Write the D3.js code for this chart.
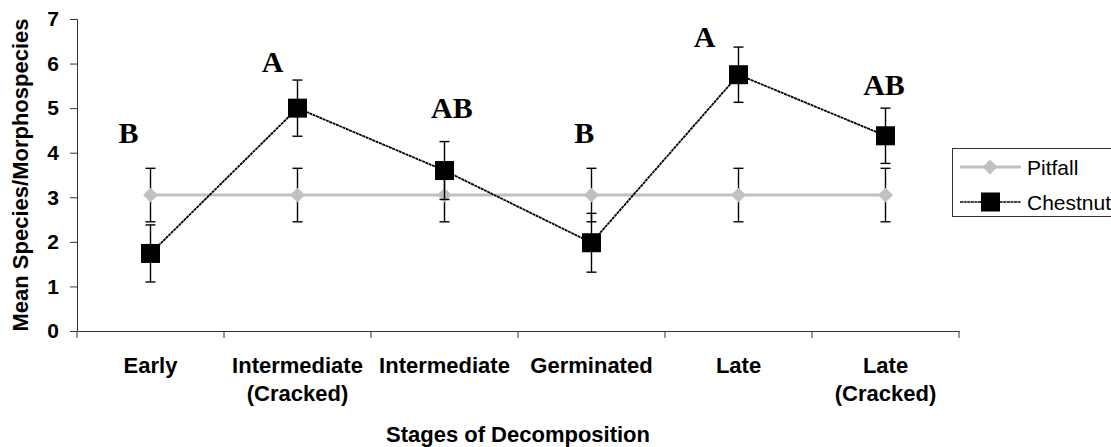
<!DOCTYPE html>
<html>
<head>
<meta charset="utf-8">
<script src="https://cdn.jsdelivr.net/npm/d3@7"></script>
<style>
  body { margin: 0; background: #fff; }
  svg { display: block; }
</style>
</head>
<body>
<svg id="chart" width="1111" height="447"></svg>
<script>
'use strict';

// stages of decomposition (each label line separated by "|")
const categories = ["Early", "Intermediate|(Cracked)", "Intermediate", "Germinated", "Late", "Late|(Cracked)"];

const pitfallMean = [3.05, 3.05, 3.05, 3.05, 3.05, 3.05];
const pitfallErr = [0.6, 0.6, 0.6, 0.6, 0.6, 0.6];

const chestnutMean = [1.74, 5.0, 3.6, 1.98, 5.75, 4.38];
const chestnutErr = [0.64, 0.63, 0.65, 0.66, 0.62, 0.62];

const yTicks = [0, 1, 2, 3, 4, 5, 6, 7];

// significance letters and where they sit (value units, fraction of band)
const letters = ["B", "A", "AB", "B", "A", "AB"];
const letterAt = [4.22, 5.81, 4.78, 4.22, 6.37, 5.30];
const letterShift = [-0.15, -0.17, 0.05, -0.05, -0.23, -0.01];


const svg = d3.select("#chart");
const plotL = 77, plotR = 959, plotT = 19, plotB = 331;

const x = d3.scaleBand()
  .domain(categories)
  .range([plotL, plotR])
  .padding(0);

const y = d3.scaleLinear()
  .domain([0, 7])
  .range([plotB, plotT]);

const cx = i => x(categories[i]) + x.bandwidth() / 2;

// y axis
const yAxis = svg.append("g")
  .attr("transform", `translate(${plotL},0)`)
  .call(d3.axisLeft(y).tickValues(yTicks).tickSize(7).tickPadding(11).tickFormat(d3.format("d")));
yAxis.selectAll("path, line").attr("stroke", "#333");
yAxis.selectAll("text")
  .attr("font-family", "Liberation Sans, Arial, sans-serif")
  .attr("font-weight", "bold")
  .attr("font-size", 21)
  .attr("fill", "#000");

// x axis, ticks between categories like excel
const xAxis = svg.append("g")
  .attr("transform", `translate(0,${plotB})`)
  .call(d3.axisBottom(x).tickSize(0).tickFormat(""));
xAxis.select("path").attr("stroke", "#333");
xAxis.selectAll(".tick").remove();

const bounds = categories.map(c => x(c)).concat([plotR]);
xAxis.selectAll("line.sep")
  .data(bounds)
  .enter()
  .append("line")
  .attr("class", "sep")
  .attr("x1", d => d).attr("x2", d => d)
  .attr("y1", 0).attr("y2", 7)
  .attr("stroke", "#333");

const lbl = svg.append("g")
  .attr("font-family", "Liberation Sans, Arial, sans-serif")
  .attr("font-weight", "bold")
  .attr("font-size", 22)
  .attr("text-anchor", "middle");

categories.forEach((c, i) => {
  c.split("|").forEach((line, j) => {
    lbl.append("text")
      .attr("x", cx(i))
      .attr("y", 373 + j * 28)
      .text(line);
  });
});

// axis titles
lbl.append("text")
  .attr("x", (plotL + plotR) / 2)
  .attr("y", 442)
  .text("Stages of Decomposition");

lbl.append("text")
  .attr("transform", `translate(28,${(plotT + plotB) / 2}) rotate(-90)`)
  .text("Mean Species/Morphospecies");

const idx = d3.range(categories.length);

function errorBars(mean, err) {
  const g = svg.append("g")
    .attr("stroke", "#000")
    .attr("stroke-width", 1.4);
  g.selectAll("line.v")
    .data(idx)
    .enter()
    .append("line")
    .attr("x1", cx).attr("x2", cx)
    .attr("y1", i => y(mean[i] - err[i]))
    .attr("y2", i => y(mean[i] + err[i]));
  [1, -1].forEach(s => {
    g.selectAll(null)
      .data(idx)
      .enter()
      .append("line")
      .attr("x1", i => cx(i) - 5).attr("x2", i => cx(i) + 5)
      .attr("y1", i => y(mean[i] + s * err[i]))
      .attr("y2", i => y(mean[i] + s * err[i]));
  });
}

// pitfall series
svg.append("path")
  .datum(idx)
  .attr("fill", "none")
  .attr("stroke", "#c0c0c0")
  .attr("stroke-width", 3)
  .attr("d", d3.line().x(i => cx(i)).y(i => y(pitfallMean[i])));

errorBars(pitfallMean, pitfallErr);

const diamond = d3.symbol().type(d3.symbolSquare).size(110);
svg.selectAll("path.dia")
  .data(idx)
  .enter()
  .append("path")
  .attr("class", "dia")
  .attr("d", diamond)
  .attr("transform", i => `translate(${cx(i)},${y(pitfallMean[i])}) rotate(45)`)
  .attr("fill", "#c0c0c0");

// chestnut series
svg.append("path")
  .datum(idx)
  .attr("fill", "none")
  .attr("stroke", "#000")
  .attr("stroke-width", 1.8)
  .attr("stroke-dasharray", "3,0.6")
  .attr("d", d3.line().x(i => cx(i)).y(i => y(chestnutMean[i])));

errorBars(chestnutMean, chestnutErr);

svg.selectAll("rect.sq")
  .data(idx)
  .enter()
  .append("rect")
  .attr("class", "sq")
  .attr("x", i => cx(i) - 9.5)
  .attr("y", i => y(chestnutMean[i]) - 9.5)
  .attr("width", 19)
  .attr("height", 19)
  .attr("fill", "#000");

// letters
svg.selectAll("text.let")
  .data(idx)
  .enter()
  .append("text")
  .attr("class", "let")
  .attr("x", i => cx(i) + letterShift[i] * x.bandwidth())
  .attr("y", i => y(letterAt[i]))
  .attr("text-anchor", "middle")
  .attr("font-family", "Liberation Serif, Times New Roman, serif")
  .attr("font-weight", "bold")
  .attr("font-size", 30)
  .text(i => letters[i]);

// legend
const lg = svg.append("g");
lg.append("rect")
  .attr("x", 952.5).attr("y", 148.5)
  .attr("width", 170).attr("height", 68)
  .attr("fill", "#fff")
  .attr("stroke", "#333");

const legendRows = [
  { name: "Pitfall", y: 167 },
  { name: "Chestnut", y: 202 }
];

lg.append("line")
  .attr("x1", 960).attr("x2", 1021)
  .attr("y1", legendRows[0].y).attr("y2", legendRows[0].y)
  .attr("stroke", "#c0c0c0").attr("stroke-width", 3);
lg.append("path")
  .attr("d", diamond)
  .attr("transform", `translate(990,${legendRows[0].y}) rotate(45)`)
  .attr("fill", "#c0c0c0");

lg.append("line")
  .attr("x1", 960).attr("x2", 1021)
  .attr("y1", legendRows[1].y).attr("y2", legendRows[1].y)
  .attr("stroke", "#000").attr("stroke-width", 1.4)
  .attr("stroke-dasharray", "3,0.6");
lg.append("rect")
  .attr("x", 981).attr("y", legendRows[1].y - 9.5)
  .attr("width", 19).attr("height", 19)
  .attr("fill", "#000");

lg.selectAll("text")
  .data(legendRows)
  .enter()
  .append("text")
  .attr("x", 1027)
  .attr("y", d => d.y + 8)
  .attr("font-family", "Liberation Sans, Arial, sans-serif")
  .attr("font-size", 21)
  .text(d => d.name);
</script>
</body>
</html>
